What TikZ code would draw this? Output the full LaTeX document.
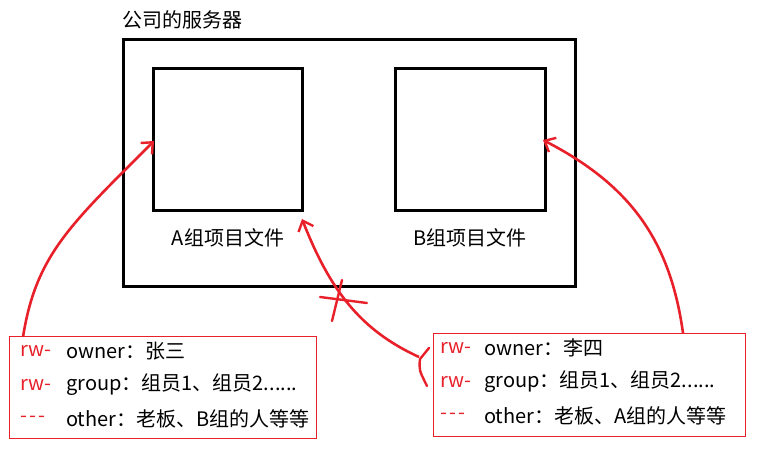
\documentclass[tikz,border=0pt]{standalone}
\usepackage{fontspec}
\setmainfont{Noto Sans CJK SC}
\usetikzlibrary{arrows.meta}
\definecolor{pred}{HTML}{E8202A}
\newcommand{\tripledash}{-\kern2pt-\kern2pt-}
\tikzset{
  blackbox/.style={draw=black, line width=3pt, inner sep=0pt},
  redbox/.style={draw=pred, line width=1pt, inner sep=0pt},
  txt/.style={font=\fontsize{20}{24}\selectfont, inner sep=0pt, anchor=west},
  rtxt/.style={txt, text=pred},
  redarrow/.style={draw=pred, line width=2.6pt, -{Straight Barb[length=9pt,width=16pt,line width=2.4pt]}},
  redline/.style={draw=pred, line width=2.4pt, line cap=round}
}
\begin{document}
\begin{tikzpicture}[x=1pt,y=-1pt]
\useasboundingbox (0,0) rectangle (758,449);
% server
\node[txt] (title) at (122,20) {公司的服务器};
\node[blackbox, minimum width=452pt, minimum height=247pt] (server) at (349,163.5) {};
\node[blackbox, minimum width=149pt, minimum height=142pt] (boxA) at (227.5,140) {};
\node[blackbox, minimum width=150pt, minimum height=142pt] (boxB) at (470,140) {};
\node[txt, anchor=center] (labA) at (228,238) {A组项目文件};
\node[txt, anchor=center] (labB) at (470,238) {B组项目文件};
% left info box
\node[redbox, minimum width=307pt, minimum height=102pt] (infoL) at (162.5,387) {};
\node[rtxt] (l1a) at (20,351) {rw-};
\node[txt] (l1b) at (66,351) {owner：张三};
\node[rtxt] (l2a) at (20,385) {rw-};
\node[txt] (l2b) at (66,385) {group：组员1、组员2......};
\node[rtxt] (l3a) at (20,419) {\tripledash};
\node[txt] (l3b) at (66,419) {other：老板、B组的人等等};
% right info box
\node[redbox, minimum width=312pt, minimum height=103pt] (infoR) at (589,384.5) {};
\node[rtxt] (r1a) at (440,348) {rw-};
\node[txt] (r1b) at (484,348) {owner：李四};
\node[rtxt] (r2a) at (440,382) {rw-};
\node[txt] (r2b) at (484,382) {group：组员1、组员2......};
\node[rtxt] (r3a) at (440,416) {\tripledash};
\node[txt] (r3b) at (484,416) {other：老板、A组的人等等};
% arrow endpoints
\coordinate (sL) at (23,337);
\coordinate (tA) at (154,141);
\coordinate (sR) at (683,333);
\coordinate (tB) at (543,140);
\coordinate (sM) at (419,357);
\coordinate (tM) at (302,219);
\draw[redarrow] (sL) .. controls (36,255) and (70,225) .. (tA);
\draw[redarrow] (sR) .. controls (670,240) and (630,185) .. (tB);
\draw[redarrow] (sM) .. controls (360,330) and (330,290) .. (tM);
% cross mark
\coordinate (x1) at (320,297);
\coordinate (x2) at (367,303);
\coordinate (x3) at (342,280);
\coordinate (x4) at (332,321);
\draw[redline] (x1) -- (x2);
\draw[redline] (x3) -- (x4);
% small stroke
\coordinate (k1) at (429,348);
\coordinate (k2) at (420,359);
\coordinate (k3) at (427,386);
\draw[redline] (k1) -- (k2) .. controls (419,370) .. (k3);
\end{tikzpicture}
\end{document}
